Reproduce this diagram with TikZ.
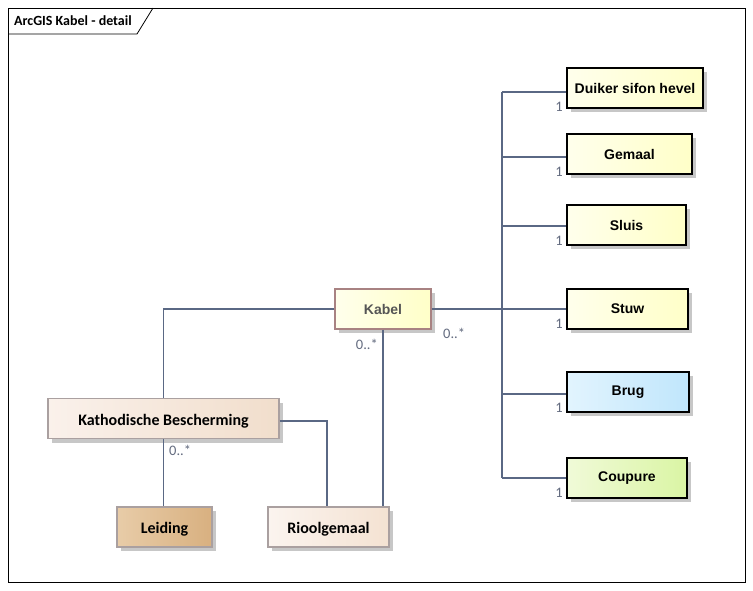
\documentclass[tikz,border=0pt]{standalone}
\usepackage{fontspec}
\setmainfont{Liberation Sans}
\newfontfamily\cali{Carlito}
\usetikzlibrary{shadows,calc}
\definecolor{linec}{RGB}{90,104,132}
\definecolor{multc}{RGB}{100,108,128}
\tikzset{
  cls/.style={rectangle, draw=black, line width=1.1pt, minimum height=40pt, inner sep=0pt,
    font=\fontsize{14}{16}\selectfont\bfseries,
    drop shadow={shadow xshift=4pt, shadow yshift=-4pt, fill=black!22, opacity=1}},
  yel/.style={cls, left color={rgb,255:red,255;green,255;blue,236}, right color={rgb,255:red,255;green,255;blue,200}},
  beige/.style={cls, draw={rgb,255:red,170;green,160;blue,160}, font=\cali\fontsize{16}{18}\selectfont\bfseries, text depth=0pt, text height=13pt},
  conn/.style={draw=linec, line width=1.1pt},
  mult/.style={text=multc, font=\cali\fontsize{14.5}{16}\selectfont, inner sep=0pt}
}
\begin{document}
\begin{tikzpicture}[x=1pt,y=-1pt]
\useasboundingbox (0,0) rectangle (753,590);
\fill[white] (0,0) rectangle (753,590);
% frame
\draw[black, line width=0.8pt] (8,8) rectangle (745,582);
\draw[black, line width=0.8pt] (8,34) -- (137,34) -- (153,8);
\node[anchor=west, inner sep=0pt, font=\cali\fontsize{14}{16}\selectfont\bfseries] (title) at (14,21) {ArcGIS Kabel - detail};

% classes
\node[yel, minimum width=136pt] (dsh) at (635,88) {Duiker sifon hevel};
\node[yel, minimum width=125pt] (gem) at (629.5,154) {Gemaal};
\node[yel, minimum width=119pt] (slu) at (626.5,225) {Sluis};
\node[yel, minimum width=121pt] (stu) at (627.5,309) {Stuw};
\node[cls, minimum width=122pt, left color={rgb,255:red,226;green,244;blue,254}, right color={rgb,255:red,192;green,230;blue,252}] (bru) at (628,392) {Brug};
\node[cls, minimum width=120pt, left color={rgb,255:red,240;green,250;blue,216}, right color={rgb,255:red,218;green,245;blue,164}] (cou) at (627,478) {Coupure};
\node[yel, draw={rgb,255:red,168;green,130;blue,130}, text={rgb,255:red,85;green,85;blue,85}, minimum width=96pt] (kab) at (383,309) {Kabel};
\node[beige, minimum width=231pt, left color={rgb,255:red,250;green,241;blue,235}, right color={rgb,255:red,241;green,222;blue,204}] (kat) at (163.5,418.5) {Kathodische Bescherming};
\node[beige, minimum width=95pt, left color={rgb,255:red,232;green,204;blue,168}, right color={rgb,255:red,216;green,176;blue,128}] (lei) at (164.5,527) {Leiding};
\node[beige, minimum width=121pt, left color={rgb,255:red,251;green,244;blue,239}, right color={rgb,255:red,244;green,226;blue,210}] (rio) at (328.5,527) {Rioolgemaal};

% trunk
\coordinate (t1) at (502,92);
\coordinate (t2) at (502,157);
\coordinate (t3) at (502,226);
\coordinate (t5) at (502,394);
\coordinate (t6) at (502,478);
\draw[conn] (t1) -- (t6);
\draw[conn] (t1) -- (dsh.west |- t1);
\draw[conn] (t2) -- (gem.west |- t2);
\draw[conn] (t3) -- (slu.west |- t3);
\draw[conn] (kab.east) -- (stu.west);
\draw[conn] (t5) -- (bru.west |- t5);
\draw[conn] (t6) -- (cou.west |- t6);

% left side
\draw[conn] (kab.west) -| (kat.north);
\draw[conn] (kab.south) -- (kab.south |- rio.north);
\draw[conn] ($(kat.east)+(0,2.5)$) -| ($(rio.north)+(-1.5,0)$);
\draw[conn] (kat.south) -- (kat.south |- lei.north);

% multiplicities
\node[mult, anchor=east] (m1) at (563,107) {1};
\node[mult, anchor=east] (m2) at (563,172) {1};
\node[mult, anchor=east] (m3) at (563,241) {1};
\node[mult, anchor=east] (m4) at (563,324) {1};
\node[mult, anchor=east] (m5) at (563,408) {1};
\node[mult, anchor=east] (m6) at (563,493) {1};
\node[mult, anchor=east] (mk1) at (378,344) {0..*};
\node[mult, anchor=west] (mk2) at (443,333) {0..*};
\node[mult, anchor=west] (mk3) at (169,450) {0..*};
\end{tikzpicture}
\end{document}
